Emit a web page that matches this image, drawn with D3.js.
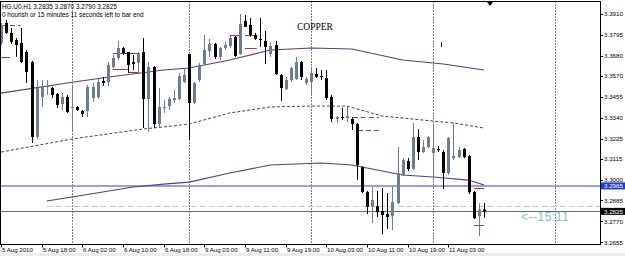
<!DOCTYPE html>
<html>
<head>
<meta charset="utf-8">
<script src="https://cdn.jsdelivr.net/npm/d3@7"></script>
<style>
  body { margin: 0; background: #fff; }
  svg { display: block; font-family: "Liberation Sans", Arial, sans-serif; }
</style>
</head>
<body>
<svg id="chart" width="625" height="256"></svg>
<script>
// HG.U0 H1 candles, 5 Aug 10:00 .. 11 Aug 10:00
const opens = [3.3751,3.3861,3.3806,3.3767,3.3751,3.3701,3.3646,3.3234,3.3454,3.3509,
  3.3503,3.3470,3.3415,3.3454,3.3393,3.3399,3.3377,3.3377,3.3448,3.3454,
  3.3542,3.3536,3.3619,3.3668,3.3723,3.3701,3.3646,3.3641,3.3701,3.3443,
  3.3619,3.3305,3.3393,3.3404,3.3437,3.3443,3.3536,3.3690,3.3421,3.3547,
  3.3635,3.3707,3.3745,3.3674,3.3723,3.3734,3.3784,3.3690,3.3872,3.3850,
  3.3795,3.3773,3.3762,3.3690,3.3740,3.3575,3.3498,3.3547,3.3553,3.3646,
  3.3531,3.3536,3.3580,3.3569,3.3558,3.3454,3.3333,3.3344,3.3338,3.3333,
  3.3305,3.3069,3.2931,3.2849,3.2854,3.2827,3.2810,3.2799,3.2871,3.3025,
  3.3102,3.3058,3.3234,3.3151,3.3179,3.3146,3.3168,3.3151,3.3036,3.3118,
  3.3124,3.3168,3.3129,3.2931,3.2799,3.2835];
const highs = [3.3861,3.3877,3.3833,3.3778,3.3833,3.3712,3.3652,3.3547,3.3547,3.3547,
  3.3509,3.3476,3.3476,3.3465,3.3520,3.3404,3.3382,3.3520,3.3531,3.3553,
  3.3564,3.3646,3.3685,3.3762,3.3729,3.3701,3.3685,3.3701,3.3778,3.3646,
  3.3624,3.3503,3.3437,3.3454,3.3492,3.3586,3.3613,3.3690,3.3536,3.3641,
  3.3795,3.3773,3.3751,3.3729,3.3756,3.3789,3.3789,3.3910,3.3905,3.3888,
  3.3806,3.3888,3.3817,3.3751,3.3762,3.3580,3.3564,3.3619,3.3674,3.3652,
  3.3564,3.3613,3.3613,3.3602,3.3602,3.3465,3.3349,3.3393,3.3404,3.3344,
  3.3311,3.3074,3.2937,3.2959,3.2937,3.2953,3.2926,3.2959,3.3179,3.3118,
  3.3118,3.3311,3.3278,3.3217,3.3239,3.3300,3.3184,3.3162,3.3234,3.3311,
  3.3179,3.3173,3.3135,3.2937,3.2871,3.2870];
const lows = [3.3740,3.3800,3.3745,3.3674,3.3641,3.3531,3.3201,3.3223,3.3399,3.3465,
  3.3448,3.3393,3.3382,3.3366,3.3261,3.3377,3.3344,3.3344,3.3426,3.3443,
  3.3514,3.3514,3.3613,3.3657,3.3685,3.3586,3.3602,3.3586,3.3283,3.3261,
  3.3283,3.3289,3.3366,3.3382,3.3421,3.3437,3.3531,3.3217,3.3415,3.3536,
  3.3630,3.3674,3.3663,3.3657,3.3712,3.3723,3.3674,3.3685,3.3839,3.3784,
  3.3767,3.3729,3.3635,3.3674,3.3575,3.3432,3.3492,3.3536,3.3547,3.3547,
  3.3520,3.3459,3.3558,3.3547,3.3437,3.3316,3.3311,3.3327,3.3316,3.3272,
  3.2997,3.2926,3.2810,3.2761,3.2794,3.2700,3.2728,3.2722,3.2865,3.3019,
  3.3047,3.3052,3.3107,3.3146,3.3173,3.2997,3.3151,3.2948,3.3025,3.3107,
  3.3118,3.3118,3.2920,3.2783,3.2689,3.2790];
const closes = [3.3850,3.3806,3.3756,3.3740,3.3646,3.3591,3.3234,3.3503,3.3514,3.3514,
  3.3465,3.3410,3.3454,3.3371,3.3399,3.3382,3.3360,3.3509,3.3509,3.3536,
  3.3531,3.3630,3.3668,3.3723,3.3696,3.3630,3.3635,3.3696,3.3443,3.3619,
  3.3305,3.3399,3.3399,3.3443,3.3448,3.3569,3.3575,3.3421,3.3531,3.3630,
  3.3712,3.3745,3.3674,3.3723,3.3740,3.3778,3.3679,3.3855,3.3839,3.3795,
  3.3773,3.3767,3.3729,3.3734,3.3580,3.3503,3.3547,3.3613,3.3646,3.3564,
  3.3553,3.3586,3.3564,3.3564,3.3448,3.3333,3.3344,3.3338,3.3349,3.3305,
  3.3080,3.2931,3.2849,3.2887,3.2821,3.2805,3.2794,3.2876,3.3036,3.3107,
  3.3058,3.3234,3.3151,3.3179,3.3234,3.3173,3.3162,3.3036,3.3228,3.3129,
  3.3162,3.3124,3.2931,3.2788,3.2835,3.2825];

// indicator lines: [bar, price]
const maUpper = [[0,3.3475],[14,3.3535],[22,3.3566],[32,3.3602],[37,3.3613],[45,3.3657],
  [53,3.3712],[61,3.3723],[69,3.3718],[79,3.3657],[87,3.3635],[95,3.3602]];
const bandLower = [[0,3.3151],[14,3.3223],[28,3.3278],[32,3.3289],[37,3.3305],[45,3.3366],
  [53,3.3399],[61,3.3404],[68,3.3404],[75,3.3349],[83,3.3327],[89,3.3311],[95,3.3283]];
const maLower = [[9,3.2882],[14,3.2904],[26,3.2959],[32,3.2975],[37,3.2986],[45,3.3036],
  [53,3.3080],[63,3.3091],[69,3.3080],[79,3.3025],[85,3.3014],[92,3.2997],[95,3.2970]];

// red level marks: [fromBar, toBar, price, dashed]
const redMarks = [[0.2,3.8,3.3850,1],[-0.2,1.8,3.3674,0],[22,27,3.3696,0],[22,25,3.3608,0],
  [25,27,3.3591,0],[45,47,3.3795,0],[48,50.3,3.3795,0],[48,50.3,3.3723,0],
  [69.2,74.3,3.3343,1],[70.2,74.3,3.3272,1],[93,95,3.2953,0],[93,95,3.2750,0]];

const yTicks = [3.3910,3.3795,3.3680,3.3570,3.3455,3.3340,3.3225,3.3115,3.3000,3.2885,3.2770,3.2655];
const timeLabels = ["5 Aug 2010","5 Aug 18:00","6 Aug 02:00","6 Aug 10:00","6 Aug 18:00",
  "9 Aug 03:00","9 Aug 11:00","9 Aug 19:00","10 Aug 03:00","10 Aug 11:00","10 Aug 19:00","11 Aug 03:00"];
const timeBars = [0,8,16,24,32,40,48,56,64,72,80,88];
const separatorBars = [14,37,61,85,109];

const bluePrice = 3.2965;
const bidPrice = 3.2825;
const askPrice = 3.2855;

const svg = d3.select("#chart");
const W = 600, plotTop = 1.5, plotBottom = 244.5;

const x = d3.scaleLinear().domain([0, 95]).range([1, 484]);
const y = d3.scaleLinear().domain([3.3910, 3.2655]).range([14, 242.3]);

svg.append("rect").attr("x", 0).attr("y", 253).attr("width", 625).attr("height", 3).attr("fill", "#ececec");

const plot = svg.append("g");

// period separators
plot.selectAll(".sep").data(separatorBars).enter().append("line")
  .attr("x1", d => Math.round(x(d)) + 0.5).attr("x2", d => Math.round(x(d)) + 0.5)
  .attr("y1", plotTop).attr("y2", plotBottom)
  .attr("stroke", "#000").attr("stroke-dasharray", "1,2");

// horizontal levels
plot.append("line").attr("x1", 0).attr("x2", W).attr("y1", y(bluePrice)).attr("y2", y(bluePrice))
  .attr("stroke", "#7f7fd6").attr("stroke-width", 1.5);
plot.append("line").attr("x1", x(9)).attr("x2", W).attr("y1", Math.round(y(askPrice)) + 0.5).attr("y2", Math.round(y(askPrice)) + 0.5)
  .attr("stroke", "#c8c8c8").attr("stroke-dasharray", "6,3");
plot.append("line").attr("x1", 0).attr("x2", W).attr("y1", Math.round(y(bidPrice)) + 0.5).attr("y2", Math.round(y(bidPrice)) + 0.5)
  .attr("stroke", "#6a6a6a");

// indicators
const line = d3.line().x(d => x(d[0])).y(d => y(d[1]));
plot.append("path").attr("d", line(maUpper)).attr("fill", "none").attr("stroke", "#5a3f70").attr("stroke-width", 1.1);
plot.append("path").attr("d", line(maLower)).attr("fill", "none").attr("stroke", "#5a3f70").attr("stroke-width", 1.1);
plot.append("path").attr("d", line(bandLower)).attr("fill", "none").attr("stroke", "#4a3d6e")
  .attr("stroke-dasharray", "3,2");

// red marks
plot.selectAll(".red").data(redMarks).enter().append("line")
  .attr("x1", d => x(d[0])).attr("x2", d => x(d[1]))
  .attr("y1", d => Math.round(y(d[2])) + 0.5).attr("y2", d => Math.round(y(d[2])) + 0.5)
  .attr("stroke", "#a33a3a").attr("stroke-dasharray", d => d[3] ? "5,3" : null);
plot.append("line").attr("x1", Math.round(x(25)) + 0.5).attr("x2", Math.round(x(25)) + 0.5)
  .attr("y1", y(3.3696)).attr("y2", y(3.3591)).attr("stroke", "#a33a3a");

// candles
const bars = d3.range(opens.length).map(i => ({i, o: opens[i], h: highs[i], l: lows[i], c: closes[i]}));
const cg = plot.selectAll(".candle").data(bars).enter().append("g");
cg.append("line")
  .attr("x1", d => Math.round(x(d.i)) + 0.5).attr("x2", d => Math.round(x(d.i)) + 0.5)
  .attr("y1", d => y(d.h)).attr("y2", d => y(d.l))
  .attr("stroke", d => d.c >= d.o ? "#6f7e8e" : "#000");
cg.append("rect")
  .attr("x", d => Math.round(x(d.i)) - 1).attr("width", 3)
  .attr("y", d => y(Math.max(d.o, d.c)))
  .attr("height", d => Math.max(1, Math.abs(y(d.o) - y(d.c))))
  .attr("fill", d => d.c >= d.o ? "#6f7e8e" : "#000");

// small marks
plot.append("line").attr("x1", 441.5).attr("x2", 441.5).attr("y1", y(3.3756)).attr("y2", y(3.3729)).attr("stroke", "#000");
svg.append("path").attr("d", "M487,2 L493,2 L490,6 Z").attr("fill", "#000");

// frame
svg.append("rect").attr("x", 0.5).attr("y", plotTop).attr("width", W).attr("height", plotBottom - plotTop)
  .attr("fill", "none").attr("stroke", "#000");

// price axis
const yAxis = svg.append("g");
yAxis.selectAll(".tk").data(yTicks).enter().append("line")
  .attr("x1", W + 0.5).attr("x2", W + 3).attr("y1", d => Math.round(y(d)) + 0.5).attr("y2", d => Math.round(y(d)) + 0.5)
  .attr("stroke", "#000");
yAxis.selectAll(".tl").data(yTicks).enter().append("text")
  .attr("x", 604).attr("y", d => y(d) + 2.2).attr("font-size", 6.2).attr("fill", "#000")
  .text(d => d.toFixed(4));

[[bluePrice, "#1f3fc4"], [bidPrice, "#000"]].forEach(([p, col]) => {
  yAxis.append("rect").attr("x", 601).attr("y", y(p) - 3.5).attr("width", 24).attr("height", 7).attr("fill", col);
  yAxis.append("text").attr("x", 604).attr("y", y(p) + 2.2).attr("font-size", 6.2).attr("fill", "#fff").text(p.toFixed(4));
});

// time axis
const xAxis = svg.append("g");
xAxis.selectAll(".tk").data(timeBars).enter().append("line")
  .attr("x1", d => Math.round(x(d)) + 0.5).attr("x2", d => Math.round(x(d)) + 0.5)
  .attr("y1", plotBottom).attr("y2", plotBottom + 3).attr("stroke", "#000");
xAxis.selectAll(".tl").data(timeLabels).enter().append("text")
  .attr("x", (d, i) => Math.round(x(timeBars[i])) + 1).attr("y", 251.5)
  .attr("font-size", 6.1).attr("fill", "#000").text(d => d);

// texts
svg.append("text").attr("x", 2).attr("y", 8.5).attr("font-size", 6.4).text("HG.U0,H1  3.2835 3.2870 3.2790 3.2825");
svg.append("text").attr("x", 2).attr("y", 16.5).attr("font-size", 6.4).text("0 hourish or 15 minutes 11 seconds left to bar end");
svg.append("text").attr("x", 297).attr("y", 29.5).attr("font-size", 9.5)
  .attr("font-family", "'Liberation Serif', 'Times New Roman', serif").text("COPPER");
svg.append("text").attr("x", 521).attr("y", 221).attr("font-size", 12).attr("fill", "#7cc4c4")
  .attr("letter-spacing", 0.5).text("<--15:11");
</script>
</body>
</html>
